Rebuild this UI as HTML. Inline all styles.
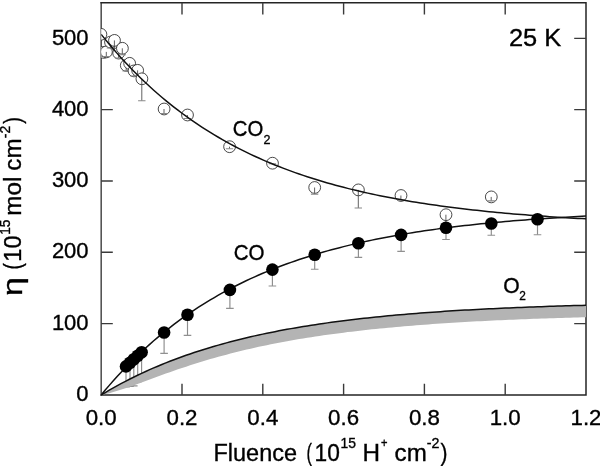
<!DOCTYPE html>
<html><head><meta charset="utf-8"><title>25 K</title>
<style>html,body{margin:0;padding:0;background:#fff;overflow:hidden}svg{display:block}text{font-family:'Liberation Sans', Arial, Helvetica, sans-serif;fill:#000;stroke:#000;stroke-width:0.35px}</style></head>
<body>
<svg width="600" height="466" viewBox="0 0 600 466">
<rect width="600" height="466" fill="#fff"/>
<defs><clipPath id="plot"><rect x="101.20" y="2.75" width="485.60" height="392.50"/></clipPath></defs>
<path d="M101.20,2.75 V394.95" fill="none" stroke="#555" stroke-width="1.6" stroke-linecap="square"/>
<path d="M101.20,2.75 H586.00 V394.95 H101.20" fill="none" stroke="#242424" stroke-width="1.5" stroke-linecap="square"/>
<path d="M182.00,394.95 v-11.2 M182.00,2.75 v11.8 M262.80,394.95 v-11.2 M262.80,2.75 v11.8 M343.60,394.95 v-11.2 M343.60,2.75 v11.8 M424.40,394.95 v-11.2 M424.40,2.75 v11.8 M505.20,394.95 v-11.2 M505.20,2.75 v11.8 M101.20,323.63 h11.6 M586.00,323.63 h-11.8 M101.20,252.31 h11.6 M586.00,252.31 h-11.8 M101.20,180.99 h11.6 M586.00,180.99 h-11.8 M101.20,109.67 h11.6 M586.00,109.67 h-11.8 M101.20,38.35 h11.6 M586.00,38.35 h-11.8" stroke="#3a3a3a" stroke-width="1.4" fill="none"/>
<g clip-path="url(#plot)">
<path d="M126.0,366.4 V386.8" stroke="#8c8c8c" stroke-width="1.15" fill="none"/><path d="M122.2,386.8 H129.8" stroke="#909090" stroke-width="1.15" fill="none"/>
<path d="M130.0,362.7 V386.5" stroke="#8c8c8c" stroke-width="1.15" fill="none"/><path d="M126.2,386.5 H133.8" stroke="#909090" stroke-width="1.15" fill="none"/>
<path d="M133.8,359.2 V385.8" stroke="#8c8c8c" stroke-width="1.15" fill="none"/><path d="M130.0,385.8 H137.6" stroke="#909090" stroke-width="1.15" fill="none"/>
<path d="M137.7,355.7 V382.0" stroke="#8c8c8c" stroke-width="1.15" fill="none"/><path d="M133.9,382.0 H141.5" stroke="#909090" stroke-width="1.15" fill="none"/>
<path d="M141.6,352.2 V380.0" stroke="#8c8c8c" stroke-width="1.15" fill="none"/><path d="M137.8,380.0 H145.4" stroke="#909090" stroke-width="1.15" fill="none"/>
<path d="M164.1,332.5 V353.3" stroke="#8c8c8c" stroke-width="1.15" fill="none"/><path d="M160.3,353.3 H167.9" stroke="#909090" stroke-width="1.15" fill="none"/>
<path d="M187.5,314.7 V335.3" stroke="#8c8c8c" stroke-width="1.15" fill="none"/><path d="M183.7,335.3 H191.3" stroke="#909090" stroke-width="1.15" fill="none"/>
<path d="M229.9,289.9 V308.3" stroke="#8c8c8c" stroke-width="1.15" fill="none"/><path d="M226.1,308.3 H233.7" stroke="#909090" stroke-width="1.15" fill="none"/>
<path d="M272.4,269.6 V286.0" stroke="#8c8c8c" stroke-width="1.15" fill="none"/><path d="M268.6,286.0 H276.2" stroke="#909090" stroke-width="1.15" fill="none"/>
<path d="M314.7,254.7 V269.2" stroke="#8c8c8c" stroke-width="1.15" fill="none"/><path d="M310.9,269.2 H318.5" stroke="#909090" stroke-width="1.15" fill="none"/>
<path d="M358.4,243.2 V257.3" stroke="#8c8c8c" stroke-width="1.15" fill="none"/><path d="M354.6,257.3 H362.2" stroke="#909090" stroke-width="1.15" fill="none"/>
<path d="M401.1,234.9 V251.3" stroke="#8c8c8c" stroke-width="1.15" fill="none"/><path d="M397.3,251.3 H404.9" stroke="#909090" stroke-width="1.15" fill="none"/>
<path d="M446.0,227.7 V239.5" stroke="#8c8c8c" stroke-width="1.15" fill="none"/><path d="M442.2,239.5 H449.8" stroke="#909090" stroke-width="1.15" fill="none"/>
<path d="M491.3,223.5 V235.2" stroke="#8c8c8c" stroke-width="1.15" fill="none"/><path d="M487.5,235.2 H495.1" stroke="#909090" stroke-width="1.15" fill="none"/>
<path d="M537.5,219.2 V234.7" stroke="#8c8c8c" stroke-width="1.15" fill="none"/><path d="M533.7,234.7 H541.3" stroke="#909090" stroke-width="1.15" fill="none"/>
<path d="M101.20,394.95 L105.24,392.53 L109.28,390.17 L113.32,387.87 L117.36,385.63 L121.40,383.45 L125.44,381.33 L129.48,379.26 L133.52,377.24 L137.56,375.28 L141.60,373.37 L145.64,371.50 L149.68,369.69 L153.72,367.92 L157.76,366.19 L161.80,364.52 L165.84,362.88 L169.88,361.29 L173.92,359.74 L177.96,358.23 L182.00,356.75 L186.04,355.32 L190.08,353.92 L194.12,352.56 L198.16,351.23 L202.20,349.94 L206.24,348.68 L210.28,347.46 L214.32,346.26 L218.36,345.10 L222.40,343.97 L226.44,342.86 L230.48,341.79 L234.52,340.74 L238.56,339.72 L242.60,338.72 L246.64,337.75 L250.68,336.81 L254.72,335.89 L258.76,335.00 L262.80,334.12 L266.84,333.27 L270.88,332.45 L274.92,331.64 L278.96,330.85 L283.00,330.09 L287.04,329.34 L291.08,328.62 L295.12,327.91 L299.16,327.22 L303.20,326.55 L307.24,325.90 L311.28,325.26 L315.32,324.64 L319.36,324.03 L323.40,323.44 L327.44,322.87 L331.48,322.31 L335.52,321.77 L339.56,321.24 L343.60,320.72 L347.64,320.22 L351.68,319.73 L355.72,319.25 L359.76,318.78 L363.80,318.33 L367.84,317.89 L371.88,317.46 L375.92,317.04 L379.96,316.63 L384.00,316.23 L388.04,315.84 L392.08,315.47 L396.12,315.10 L400.16,314.74 L404.20,314.39 L408.24,314.05 L412.28,313.72 L416.32,313.40 L420.36,313.08 L424.40,312.78 L428.44,312.48 L432.48,312.19 L436.52,311.91 L440.56,311.63 L444.60,311.36 L448.64,311.10 L452.68,310.85 L456.72,310.60 L460.76,310.35 L464.80,310.12 L468.84,309.89 L472.88,309.67 L476.92,309.45 L480.96,309.24 L485.00,309.03 L489.04,308.83 L493.08,308.63 L497.12,308.44 L501.16,308.25 L505.20,308.07 L509.24,307.90 L513.28,307.72 L517.32,307.56 L521.36,307.39 L525.40,307.23 L529.44,307.08 L533.48,306.93 L537.52,306.78 L541.56,306.64 L545.60,306.50 L549.64,306.36 L553.68,306.23 L557.72,306.10 L561.76,305.98 L565.80,305.85 L569.84,305.73 L573.88,305.62 L577.92,305.50 L581.96,305.39 L586.00,305.29 L586.00,317.20 L581.96,317.30 L577.92,317.41 L573.88,317.53 L569.84,317.64 L565.80,317.76 L561.76,317.89 L557.72,318.01 L553.68,318.14 L549.64,318.27 L545.60,318.41 L541.56,318.55 L537.52,318.69 L533.48,318.84 L529.44,318.99 L525.40,319.14 L521.36,319.30 L517.32,319.47 L513.28,319.63 L509.24,319.81 L505.20,319.98 L501.16,320.17 L497.12,320.35 L493.08,320.54 L489.04,320.74 L485.00,320.94 L480.96,321.15 L476.92,321.36 L472.88,321.58 L468.84,321.80 L464.80,322.03 L460.76,322.27 L456.72,322.51 L452.68,322.76 L448.64,323.01 L444.60,323.27 L440.56,323.54 L436.52,323.82 L432.48,324.10 L428.44,324.39 L424.40,324.69 L420.36,324.99 L416.32,325.31 L412.28,325.63 L408.24,325.96 L404.20,326.30 L400.16,326.65 L396.12,327.01 L392.08,327.38 L388.04,327.75 L384.00,328.14 L379.96,328.54 L375.92,328.95 L371.88,329.37 L367.84,329.80 L363.80,330.24 L359.76,330.69 L355.72,331.16 L351.68,331.63 L347.64,332.12 L343.60,332.63 L339.56,333.14 L335.52,333.67 L331.48,334.22 L327.44,334.78 L323.40,335.35 L319.36,335.94 L315.32,336.54 L311.28,337.16 L307.24,337.80 L303.20,338.45 L299.16,339.12 L295.12,339.81 L291.08,340.51 L287.04,341.24 L283.00,341.98 L278.96,342.74 L274.92,343.53 L270.88,344.33 L266.84,345.15 L262.80,346.00 L258.76,346.86 L254.72,347.75 L250.68,348.66 L246.64,349.60 L242.60,350.56 L238.56,351.54 L234.52,352.55 L230.48,353.58 L226.44,354.63 L222.40,355.72 L218.36,356.83 L214.32,357.96 L210.28,359.12 L206.24,360.31 L202.20,361.53 L198.16,362.77 L194.12,364.03 L190.08,365.33 L186.04,366.65 L182.00,367.99 L177.96,369.36 L173.92,370.75 L169.88,372.17 L165.84,373.60 L161.80,375.05 L157.76,376.52 L153.72,377.99 L149.68,379.48 L145.64,380.97 L141.60,382.45 L137.56,383.93 L133.52,385.39 L129.48,386.82 L125.44,388.22 L121.40,389.56 L117.36,390.85 L113.32,392.05 L109.28,393.15 L105.24,394.12 L101.20,394.95 Z" fill="#b4b4b4" stroke="none"/>
<path d="M101.20,394.95 L105.24,392.53 L109.28,390.17 L113.32,387.87 L117.36,385.63 L121.40,383.45 L125.44,381.33 L129.48,379.26 L133.52,377.24 L137.56,375.28 L141.60,373.37 L145.64,371.50 L149.68,369.69 L153.72,367.92 L157.76,366.19 L161.80,364.52 L165.84,362.88 L169.88,361.29 L173.92,359.74 L177.96,358.23 L182.00,356.75 L186.04,355.32 L190.08,353.92 L194.12,352.56 L198.16,351.23 L202.20,349.94 L206.24,348.68 L210.28,347.46 L214.32,346.26 L218.36,345.10 L222.40,343.97 L226.44,342.86 L230.48,341.79 L234.52,340.74 L238.56,339.72 L242.60,338.72 L246.64,337.75 L250.68,336.81 L254.72,335.89 L258.76,335.00 L262.80,334.12 L266.84,333.27 L270.88,332.45 L274.92,331.64 L278.96,330.85 L283.00,330.09 L287.04,329.34 L291.08,328.62 L295.12,327.91 L299.16,327.22 L303.20,326.55 L307.24,325.90 L311.28,325.26 L315.32,324.64 L319.36,324.03 L323.40,323.44 L327.44,322.87 L331.48,322.31 L335.52,321.77 L339.56,321.24 L343.60,320.72 L347.64,320.22 L351.68,319.73 L355.72,319.25 L359.76,318.78 L363.80,318.33 L367.84,317.89 L371.88,317.46 L375.92,317.04 L379.96,316.63 L384.00,316.23 L388.04,315.84 L392.08,315.47 L396.12,315.10 L400.16,314.74 L404.20,314.39 L408.24,314.05 L412.28,313.72 L416.32,313.40 L420.36,313.08 L424.40,312.78 L428.44,312.48 L432.48,312.19 L436.52,311.91 L440.56,311.63 L444.60,311.36 L448.64,311.10 L452.68,310.85 L456.72,310.60 L460.76,310.35 L464.80,310.12 L468.84,309.89 L472.88,309.67 L476.92,309.45 L480.96,309.24 L485.00,309.03 L489.04,308.83 L493.08,308.63 L497.12,308.44 L501.16,308.25 L505.20,308.07 L509.24,307.90 L513.28,307.72 L517.32,307.56 L521.36,307.39 L525.40,307.23 L529.44,307.08 L533.48,306.93 L537.52,306.78 L541.56,306.64 L545.60,306.50 L549.64,306.36 L553.68,306.23 L557.72,306.10 L561.76,305.98 L565.80,305.85 L569.84,305.73 L573.88,305.62 L577.92,305.50 L581.96,305.39 L586.00,305.29" fill="none" stroke="#111" stroke-width="1.5"/>
<circle cx="100.90" cy="34.30" r="5.9" fill="#fff" stroke="#1a1a1a" stroke-width="0.8"/>
<circle cx="103.60" cy="52.40" r="5.9" fill="#fff" stroke="#1a1a1a" stroke-width="0.8"/>
<path d="M103.5,52.4 V56.5" stroke="#444" stroke-width="0.85" fill="none"/><path d="M99.8,56.5 H107.2" stroke="#888" stroke-width="1.1" fill="none"/>
<circle cx="106.40" cy="51.90" r="5.9" fill="#fff" stroke="#1a1a1a" stroke-width="0.8"/>
<path d="M106.3,51.9 V56.5" stroke="#444" stroke-width="0.85" fill="none"/><path d="M102.6,56.5 H110.0" stroke="#888" stroke-width="1.1" fill="none"/>
<circle cx="110.50" cy="42.10" r="5.9" fill="#fff" stroke="#1a1a1a" stroke-width="0.8"/>
<path d="M110.4,42.1 V48.0" stroke="#444" stroke-width="0.85" fill="none"/><path d="M106.7,48.0 H114.1" stroke="#888" stroke-width="1.1" fill="none"/>
<circle cx="114.50" cy="40.40" r="5.9" fill="#fff" stroke="#1a1a1a" stroke-width="0.8"/>
<path d="M114.4,40.4 V49.5" stroke="#444" stroke-width="0.85" fill="none"/><path d="M110.7,49.5 H118.1" stroke="#888" stroke-width="1.1" fill="none"/>
<circle cx="118.70" cy="53.10" r="5.9" fill="#fff" stroke="#1a1a1a" stroke-width="0.8"/>
<path d="M118.6,53.1 V58.0" stroke="#444" stroke-width="0.85" fill="none"/><path d="M114.9,58.0 H122.3" stroke="#888" stroke-width="1.1" fill="none"/>
<circle cx="122.40" cy="48.30" r="5.9" fill="#fff" stroke="#1a1a1a" stroke-width="0.8"/>
<path d="M122.3,48.3 V54.7" stroke="#444" stroke-width="0.85" fill="none"/><path d="M118.6,54.7 H126.0" stroke="#888" stroke-width="1.1" fill="none"/>
<circle cx="126.30" cy="65.40" r="5.9" fill="#fff" stroke="#1a1a1a" stroke-width="0.8"/>
<path d="M126.2,65.4 V71.0" stroke="#444" stroke-width="0.85" fill="none"/><path d="M122.5,71.0 H129.9" stroke="#888" stroke-width="1.1" fill="none"/>
<circle cx="129.65" cy="63.35" r="5.9" fill="#fff" stroke="#1a1a1a" stroke-width="0.8"/>
<path d="M129.6,63.4 V70.0" stroke="#444" stroke-width="0.85" fill="none"/><path d="M125.9,70.0 H133.2" stroke="#888" stroke-width="1.1" fill="none"/>
<circle cx="134.00" cy="70.90" r="5.9" fill="#fff" stroke="#1a1a1a" stroke-width="0.8"/>
<path d="M133.9,70.9 V76.0" stroke="#444" stroke-width="0.85" fill="none"/><path d="M130.2,76.0 H137.6" stroke="#888" stroke-width="1.1" fill="none"/>
<circle cx="137.65" cy="70.35" r="5.9" fill="#fff" stroke="#1a1a1a" stroke-width="0.8"/>
<path d="M137.6,70.3 V76.0" stroke="#444" stroke-width="0.85" fill="none"/><path d="M133.9,76.0 H141.2" stroke="#888" stroke-width="1.1" fill="none"/>
<circle cx="141.90" cy="78.80" r="5.9" fill="#fff" stroke="#1a1a1a" stroke-width="0.8"/>
<path d="M141.8,78.8 V100.7" stroke="#444" stroke-width="0.85" fill="none"/><path d="M138.1,100.7 H145.5" stroke="#888" stroke-width="1.1" fill="none"/>
<circle cx="164.10" cy="109.00" r="5.9" fill="#fff" stroke="#1a1a1a" stroke-width="0.8"/>
<path d="M164.0,109.0 V113.5" stroke="#444" stroke-width="0.85" fill="none"/><path d="M160.3,113.5 H167.7" stroke="#888" stroke-width="1.1" fill="none"/>
<circle cx="187.50" cy="115.00" r="5.9" fill="#fff" stroke="#1a1a1a" stroke-width="0.8"/>
<path d="M187.4,115.0 V118.5" stroke="#444" stroke-width="0.85" fill="none"/><path d="M183.7,118.5 H191.1" stroke="#888" stroke-width="1.1" fill="none"/>
<circle cx="229.60" cy="146.70" r="5.9" fill="#fff" stroke="#1a1a1a" stroke-width="0.8"/>
<path d="M229.5,146.7 V148.7" stroke="#444" stroke-width="0.85" fill="none"/><path d="M225.8,148.7 H233.2" stroke="#888" stroke-width="1.1" fill="none"/>
<circle cx="272.50" cy="163.20" r="5.9" fill="#fff" stroke="#1a1a1a" stroke-width="0.8"/>
<path d="M272.4,163.2 V163.8" stroke="#444" stroke-width="0.85" fill="none"/><path d="M268.7,163.8 H276.1" stroke="#888" stroke-width="1.1" fill="none"/>
<circle cx="314.70" cy="187.50" r="5.9" fill="#fff" stroke="#1a1a1a" stroke-width="0.8"/>
<path d="M314.6,187.5 V194.1" stroke="#444" stroke-width="0.85" fill="none"/><path d="M310.9,194.1 H318.3" stroke="#888" stroke-width="1.1" fill="none"/>
<circle cx="358.40" cy="189.90" r="5.9" fill="#fff" stroke="#1a1a1a" stroke-width="0.8"/>
<path d="M358.3,189.9 V208.0" stroke="#444" stroke-width="0.85" fill="none"/><path d="M354.6,208.0 H362.0" stroke="#888" stroke-width="1.1" fill="none"/>
<circle cx="401.00" cy="195.50" r="5.9" fill="#fff" stroke="#1a1a1a" stroke-width="0.8"/>
<path d="M400.9,195.5 V200.0" stroke="#444" stroke-width="0.85" fill="none"/><path d="M397.2,200.0 H404.6" stroke="#888" stroke-width="1.1" fill="none"/>
<circle cx="446.00" cy="214.70" r="5.9" fill="#fff" stroke="#1a1a1a" stroke-width="0.8"/>
<path d="M445.9,214.7 V232.0" stroke="#444" stroke-width="0.85" fill="none"/><path d="M442.2,232.0 H449.6" stroke="#888" stroke-width="1.1" fill="none"/>
<circle cx="491.30" cy="196.90" r="5.9" fill="#fff" stroke="#1a1a1a" stroke-width="0.8"/>
<path d="M491.2,196.9 V200.9" stroke="#444" stroke-width="0.85" fill="none"/><path d="M487.5,200.9 H494.9" stroke="#888" stroke-width="1.1" fill="none"/>
<path d="M101.20,34.36 L105.24,39.36 L109.28,44.24 L113.32,48.99 L117.36,53.62 L121.40,58.13 L125.44,62.52 L129.48,66.80 L133.52,70.96 L137.56,75.02 L141.60,78.97 L145.64,82.82 L149.68,86.57 L153.72,90.22 L157.76,93.77 L161.80,97.24 L165.84,100.61 L169.88,103.90 L173.92,107.10 L177.96,110.21 L182.00,113.25 L186.04,116.21 L190.08,119.09 L194.12,121.89 L198.16,124.63 L202.20,127.29 L206.24,129.88 L210.28,132.40 L214.32,134.86 L218.36,137.26 L222.40,139.59 L226.44,141.86 L230.48,144.08 L234.52,146.23 L238.56,148.33 L242.60,150.38 L246.64,152.37 L250.68,154.31 L254.72,156.20 L258.76,158.04 L262.80,159.83 L266.84,161.58 L270.88,163.28 L274.92,164.94 L278.96,166.55 L283.00,168.12 L287.04,169.65 L291.08,171.14 L295.12,172.59 L299.16,174.01 L303.20,175.39 L307.24,176.73 L311.28,178.03 L315.32,179.31 L319.36,180.55 L323.40,181.75 L327.44,182.93 L331.48,184.08 L335.52,185.19 L339.56,186.28 L343.60,187.34 L347.64,188.37 L351.68,189.37 L355.72,190.35 L359.76,191.30 L363.80,192.23 L367.84,193.14 L371.88,194.02 L375.92,194.87 L379.96,195.71 L384.00,196.52 L388.04,197.31 L392.08,198.08 L396.12,198.84 L400.16,199.57 L404.20,200.28 L408.24,200.98 L412.28,201.65 L416.32,202.31 L420.36,202.95 L424.40,203.58 L428.44,204.19 L432.48,204.78 L436.52,205.36 L440.56,205.92 L444.60,206.47 L448.64,207.00 L452.68,207.52 L456.72,208.03 L460.76,208.52 L464.80,209.00 L468.84,209.47 L472.88,209.92 L476.92,210.37 L480.96,210.80 L485.00,211.22 L489.04,211.63 L493.08,212.03 L497.12,212.42 L501.16,212.80 L505.20,213.17 L509.24,213.53 L513.28,213.88 L517.32,214.22 L521.36,214.55 L525.40,214.87 L529.44,215.19 L533.48,215.49 L537.52,215.79 L541.56,216.08 L545.60,216.37 L549.64,216.64 L553.68,216.91 L557.72,217.18 L561.76,217.43 L565.80,217.68 L569.84,217.92 L573.88,218.16 L577.92,218.39 L581.96,218.61 L586.00,218.83" fill="none" stroke="#111" stroke-width="1.5"/>
<path d="M101.20,394.95 L105.24,390.10 L109.28,385.37 L113.32,380.77 L117.36,376.28 L121.40,371.91 L125.44,367.66 L129.48,363.51 L133.52,359.48 L137.56,355.54 L141.60,351.71 L145.64,347.98 L149.68,344.35 L153.72,340.81 L157.76,337.37 L161.80,334.01 L165.84,330.74 L169.88,327.55 L173.92,324.45 L177.96,321.43 L182.00,318.48 L186.04,315.62 L190.08,312.82 L194.12,310.10 L198.16,307.45 L202.20,304.87 L206.24,302.36 L210.28,299.91 L214.32,297.53 L218.36,295.20 L222.40,292.94 L226.44,290.74 L230.48,288.59 L234.52,286.50 L238.56,284.46 L242.60,282.48 L246.64,280.55 L250.68,278.67 L254.72,276.83 L258.76,275.05 L262.80,273.31 L266.84,271.61 L270.88,269.96 L274.92,268.36 L278.96,266.79 L283.00,265.27 L287.04,263.78 L291.08,262.34 L295.12,260.93 L299.16,259.56 L303.20,258.22 L307.24,256.92 L311.28,255.65 L315.32,254.41 L319.36,253.21 L323.40,252.04 L327.44,250.90 L331.48,249.79 L335.52,248.70 L339.56,247.65 L343.60,246.62 L347.64,245.62 L351.68,244.64 L355.72,243.70 L359.76,242.77 L363.80,241.87 L367.84,240.99 L371.88,240.14 L375.92,239.31 L379.96,238.50 L384.00,237.71 L388.04,236.94 L392.08,236.19 L396.12,235.46 L400.16,234.75 L404.20,234.05 L408.24,233.38 L412.28,232.72 L416.32,232.08 L420.36,231.46 L424.40,230.85 L428.44,230.26 L432.48,229.69 L436.52,229.13 L440.56,228.58 L444.60,228.05 L448.64,227.53 L452.68,227.02 L456.72,226.53 L460.76,226.05 L464.80,225.59 L468.84,225.13 L472.88,224.69 L476.92,224.26 L480.96,223.84 L485.00,223.43 L489.04,223.03 L493.08,222.64 L497.12,222.27 L501.16,221.90 L505.20,221.54 L509.24,221.19 L513.28,220.85 L517.32,220.52 L521.36,220.20 L525.40,219.88 L529.44,219.57 L533.48,219.28 L537.52,218.99 L541.56,218.70 L545.60,218.43 L549.64,218.16 L553.68,217.90 L557.72,217.64 L561.76,217.39 L565.80,217.15 L569.84,216.92 L573.88,216.69 L577.92,216.47 L581.96,216.25 L586.00,216.04" fill="none" stroke="#111" stroke-width="1.5"/>
<circle cx="126.0" cy="366.4" r="6.3" fill="#000"/>
<circle cx="130.0" cy="362.7" r="6.3" fill="#000"/>
<circle cx="133.8" cy="359.2" r="6.3" fill="#000"/>
<circle cx="137.7" cy="355.7" r="6.3" fill="#000"/>
<circle cx="141.6" cy="352.2" r="6.3" fill="#000"/>
<circle cx="164.1" cy="332.5" r="6.3" fill="#000"/>
<circle cx="187.5" cy="314.7" r="6.3" fill="#000"/>
<circle cx="229.9" cy="289.9" r="6.3" fill="#000"/>
<circle cx="272.4" cy="269.6" r="6.3" fill="#000"/>
<circle cx="314.7" cy="254.7" r="6.3" fill="#000"/>
<circle cx="358.4" cy="243.2" r="6.3" fill="#000"/>
<circle cx="401.1" cy="234.9" r="6.3" fill="#000"/>
<circle cx="446.0" cy="227.7" r="6.3" fill="#000"/>
<circle cx="491.3" cy="223.5" r="6.3" fill="#000"/>
<circle cx="537.5" cy="219.2" r="6.3" fill="#000"/>
</g>
<text transform="translate(101.2,425.1) scale(1,1.02)" font-size="22.3" text-anchor="middle" stroke-width="0.2">0.0</text>
<text transform="translate(182.0,425.1) scale(1,1.02)" font-size="22.3" text-anchor="middle" stroke-width="0.2">0.2</text>
<text transform="translate(262.8,425.1) scale(1,1.02)" font-size="22.3" text-anchor="middle" stroke-width="0.2">0.4</text>
<text transform="translate(343.6,425.1) scale(1,1.02)" font-size="22.3" text-anchor="middle" stroke-width="0.2">0.6</text>
<text transform="translate(424.4,425.1) scale(1,1.02)" font-size="22.3" text-anchor="middle" stroke-width="0.2">0.8</text>
<text transform="translate(505.2,425.1) scale(1,1.02)" font-size="22.3" text-anchor="middle" stroke-width="0.2">1.0</text>
<text transform="translate(586.0,425.1) scale(1,1.02)" font-size="22.3" text-anchor="middle" stroke-width="0.2">1.2</text>
<text transform="translate(88.6,401.1) scale(1,1.03)" font-size="22" text-anchor="end" stroke-width="0.2">0</text>
<text transform="translate(88.6,329.7) scale(1,1.03)" font-size="22" text-anchor="end" stroke-width="0.2">100</text>
<text transform="translate(88.6,258.4) scale(1,1.03)" font-size="22" text-anchor="end" stroke-width="0.2">200</text>
<text transform="translate(88.6,187.1) scale(1,1.03)" font-size="22" text-anchor="end" stroke-width="0.2">300</text>
<text transform="translate(88.6,115.8) scale(1,1.03)" font-size="22" text-anchor="end" stroke-width="0.2">400</text>
<text transform="translate(88.6,44.5) scale(1,1.03)" font-size="22" text-anchor="end" stroke-width="0.2">500</text>
<text transform="translate(232.73,136.30) scale(0.9408,1)" font-size="21.60">CO</text>
<text transform="translate(263.52,144.45) scale(0.9491,1)" font-size="13.20">2</text>
<text transform="translate(233.72,259.95) scale(0.9420,1)" font-size="21.80">CO</text>
<text transform="translate(503.15,292.60) scale(0.9768,1)" font-size="21.60">O</text>
<text transform="translate(519.26,300.40) scale(0.8923,1)" font-size="13.30">2</text>
<text transform="translate(508.88,46.20) scale(1.0501,1)" font-size="24.20">25 K</text>
<text transform="translate(213.51,460.60) scale(0.9784,1)" font-size="24.00">Fluence</text>
<text transform="translate(306.38,460.60) scale(0.6825,1)" font-size="24.00">(</text>
<text transform="translate(314.59,460.60) scale(0.9482,1)" font-size="24.00">10</text>
<text transform="translate(340.51,447.50) scale(0.9978,1)" font-size="13.90">15</text>
<text transform="translate(362.44,460.60) scale(1.0127,1)" font-size="24.00">H</text>
<text transform="translate(381.04,447.40) scale(0.8907,1)" font-size="12.50">+</text>
<text transform="translate(394.57,460.60) scale(1.0068,1)" font-size="24.00">cm</text>
<text transform="translate(426.71,447.55) scale(1.0041,1)" font-size="14.20">-2</text>
<text transform="translate(440.54,460.60) scale(0.8730,1)" font-size="24.00">)</text>
<text stroke-width="0" transform="translate(21.60,296.09) rotate(-90) scale(1.2384,1)" font-size="27.50">η</text>
<text transform="translate(21.10,269.39) rotate(-90) scale(0.7871,1)" font-size="24.20">(</text>
<text transform="translate(21.10,261.66) rotate(-90) scale(0.9575,1)" font-size="24.50">10</text>
<text transform="translate(10.40,234.72) rotate(-90) scale(0.9488,1)" font-size="14.30">15</text>
<text transform="translate(21.10,215.64) rotate(-90) scale(1.0096,1)" font-size="24.00">mol</text>
<text transform="translate(21.10,170.63) rotate(-90) scale(1.0068,1)" font-size="24.00">cm</text>
<text transform="translate(10.45,138.23) rotate(-90) scale(0.9660,1)" font-size="14.50">-2</text>
<text transform="translate(21.10,123.85) rotate(-90) scale(0.8343,1)" font-size="24.20">)</text>
</svg>
</body></html>
